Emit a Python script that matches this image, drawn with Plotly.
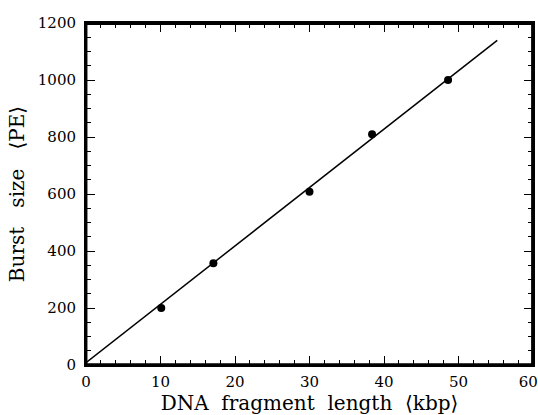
import plotly.graph_objects as go

# data
length_kbp = [10.1, 17.1, 30.0, 38.4, 48.6]
burst_pe = [200, 357, 608, 810, 1000]
fit_x = [0, 55.2]
fit_y = [8, 1139]

x_ticks = [0, 10, 20, 30, 40, 50, 60]
x_ticktext = ["0", "10", "20", "30", "40", "50", "60\u00a0\u00a0"]
y_ticks = [0, 200, 400, 600, 800, 1000, 1200]

font_family = "DejaVu Serif"
sp = "\u00a0"

fig = go.Figure()
fig.add_trace(go.Scatter(x=fit_x, y=fit_y, mode="lines",
                         line=dict(color="black", width=1.5), hoverinfo="skip"))
fig.add_trace(go.Scatter(x=length_kbp, y=burst_pe, mode="markers",
                         marker=dict(color="black", size=8)))

axis_common = dict(
    showgrid=False, zeroline=False, showline=True, linecolor="black", linewidth=2,
    mirror="allticks", ticks="inside", ticklen=9, tickwidth=1.3, tickcolor="black",
    automargin=False, ticklabeloverflow="allow",
    tickfont=dict(family=font_family, size=15, color="black"),
)

fig.update_xaxes(range=[0, 60], tickvals=x_ticks, ticktext=x_ticktext,
                 minor=dict(dtick=2, tick0=0, ticks="inside", ticklen=5, tickwidth=1.1, tickcolor="black"),
                 title=dict(text=f"DNA{sp}{sp}fragment{sp}{sp}length{sp}{sp}⟨kbp⟩", standoff=0,
                            font=dict(family=font_family, size=20, color="black")),
                 ticklabelstandoff=2,
                 **axis_common)
fig.update_yaxes(range=[0, 1200], tickvals=y_ticks, ticktext=[str(v) for v in y_ticks],
                 minor=dict(dtick=50, tick0=0, ticks="inside", ticklen=5, tickwidth=1.1, tickcolor="black"),
                 title=dict(text=f"Burst{sp}{sp}{sp}size{sp}{sp}{sp}⟨PE⟩", standoff=8,
                            font=dict(family=font_family, size=20, color="black")),
                 ticklabelstandoff=5,
                 **axis_common)

# frame around the plotting area (slightly inset so it is never clipped)
fig.add_shape(type="rect", xref="paper", yref="paper", x0=0.001, x1=0.998, y0=0.002, y1=0.997,
              line=dict(color="black", width=2), layer="above")

fig.update_layout(width=538, height=415, showlegend=False,
                  margin=dict(l=85.5, r=5, t=22.5, b=49.5),
                  plot_bgcolor="white", paper_bgcolor="white")

fig.write_html("out.html", config={"displayModeBar": False},
               post_script="document.body.style.margin='0';document.body.style.overflow='hidden';")
